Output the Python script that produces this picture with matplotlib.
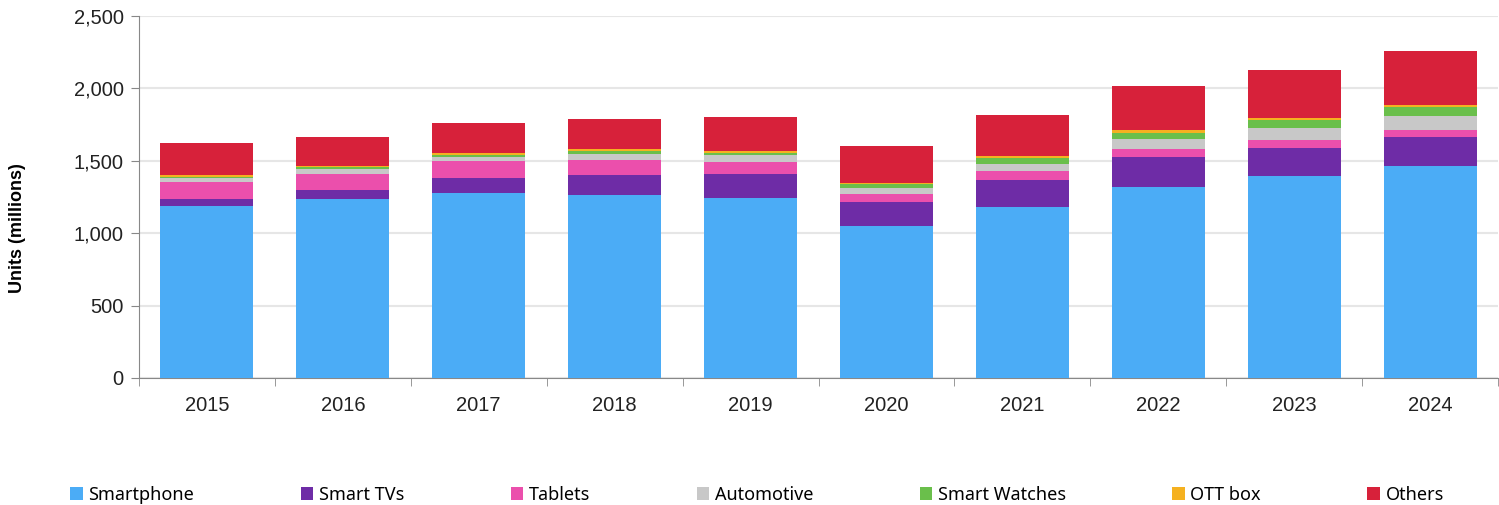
import matplotlib
matplotlib.use("Agg")
import matplotlib.pyplot as plt
from matplotlib.ticker import FuncFormatter, MultipleLocator
import numpy as np

years = ["2015", "2016", "2017", "2018", "2019", "2020", "2021", "2022", "2023", "2024"]
smartphone = [1188, 1233, 1280, 1262, 1240, 1048, 1181, 1321, 1393, 1462]
smart_tvs = [45, 63, 103, 140, 171, 167, 184, 205, 195, 205]
tablets = [124, 115, 116, 106, 78, 54, 62, 53, 53, 46]
automotive = [22, 30, 29, 37, 48, 43, 53, 69, 88, 94]
smart_watches = [11, 14, 12, 23, 19, 30, 37, 46, 53, 62]
ott_box = [12, 11, 11, 11, 12, 7, 16, 17, 16, 18]
others = [219, 201, 210, 210, 232, 255, 281, 308, 326, 369]

series = [
    ("Smartphone", smartphone, "#4BACF6"),
    ("Smart TVs", smart_tvs, "#6E2CA6"),
    ("Tablets", tablets, "#EB4FAC"),
    ("Automotive", automotive, "#C8C8C8"),
    ("Smart Watches", smart_watches, "#6ABF4B"),
    ("OTT box", ott_box, "#F5B120"),
    ("Others", others, "#D7213A"),
]

plt.rcParams['font.family'] = ['Liberation Sans', 'DejaVu Sans']

fig = plt.figure(figsize=(14.99, 5.05), dpi=100)
ax = fig.add_axes([0.0927, 0.2515, 0.9067, 0.7168])

x = np.arange(len(years))
bottom = np.zeros(len(years))
for name, vals, col in series:
    ax.bar(x, vals, width=0.684, bottom=bottom, color=col, label=name, zorder=3)
    bottom += np.array(vals)

ax.set_xlim(-0.5, 9.5)
ax.set_ylim(0, 2500)
ax.yaxis.set_major_locator(MultipleLocator(500))
ax.yaxis.set_major_formatter(FuncFormatter(lambda v, p: "{:,.0f}".format(v)))
ax.grid(axis='y', color='#E6E6E6', linewidth=1.5, zorder=0)

ax.set_xticks(x)
ax.set_xticklabels(years)
ax.set_xticks(np.arange(-0.5, 10, 1), minor=True)
ax.tick_params(axis='x', which='major', length=0, pad=13, labelsize=14.5, colors='#222222')
ax.tick_params(axis='x', which='minor', length=6, color='#888888')
ax.tick_params(axis='y', length=6, color='#888888', labelsize=14.5, labelcolor='#222222', pad=5)

for s in ['top', 'right']:
    ax.spines[s].set_visible(False)
ax.spines['left'].set_color('#888888')
ax.spines['bottom'].set_color('#888888')

ax.set_ylabel("Units (millions)", fontsize=13, fontweight='bold')
ax.yaxis.set_label_coords(-0.083, 0.414)

fig.legend(loc='center', bbox_to_anchor=(0.505, 0.02), ncol=7, frameon=False,
           prop={'family': ['Noto Sans', 'DejaVu Sans'], 'size': 13},
           handlelength=0.7, handleheight=0.7, handletextpad=0.3,
           columnspacing=5.9)

fig.savefig("out.png", dpi=100)
